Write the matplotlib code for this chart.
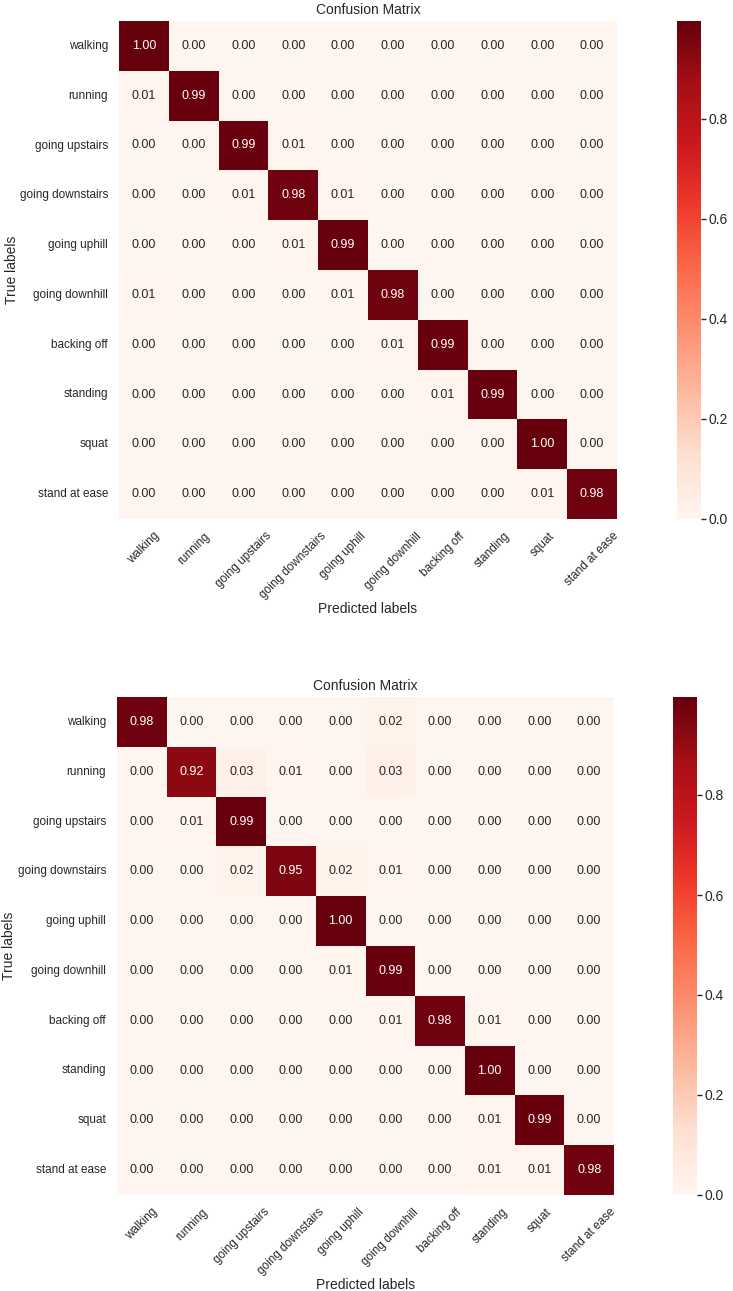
import numpy as np
import matplotlib
matplotlib.use("Agg")
import matplotlib.pyplot as plt
import seaborn as sns

labels = ["walking", "running", "going upstairs", "going downstairs", "going uphill",
          "going downhill", "backing off", "standing", "squat", "stand at ease"]

cm_top = np.array([
    [0.996, 0.00, 0.00, 0.00, 0.00, 0.00, 0.00, 0.00, 0.00, 0.00],
    [0.01, 0.99, 0.00, 0.00, 0.00, 0.00, 0.00, 0.00, 0.00, 0.00],
    [0.00, 0.00, 0.99, 0.01, 0.00, 0.00, 0.00, 0.00, 0.00, 0.00],
    [0.00, 0.00, 0.01, 0.98, 0.01, 0.00, 0.00, 0.00, 0.00, 0.00],
    [0.00, 0.00, 0.00, 0.01, 0.99, 0.00, 0.00, 0.00, 0.00, 0.00],
    [0.01, 0.00, 0.00, 0.00, 0.01, 0.98, 0.00, 0.00, 0.00, 0.00],
    [0.00, 0.00, 0.00, 0.00, 0.00, 0.01, 0.99, 0.00, 0.00, 0.00],
    [0.00, 0.00, 0.00, 0.00, 0.00, 0.00, 0.01, 0.99, 0.00, 0.00],
    [0.00, 0.00, 0.00, 0.00, 0.00, 0.00, 0.00, 0.00, 0.996, 0.00],
    [0.00, 0.00, 0.00, 0.00, 0.00, 0.00, 0.00, 0.00, 0.01, 0.98],
])

cm_bottom = np.array([
    [0.98, 0.00, 0.00, 0.00, 0.00, 0.02, 0.00, 0.00, 0.00, 0.00],
    [0.00, 0.92, 0.03, 0.01, 0.00, 0.03, 0.00, 0.00, 0.00, 0.00],
    [0.00, 0.01, 0.99, 0.00, 0.00, 0.00, 0.00, 0.00, 0.00, 0.00],
    [0.00, 0.00, 0.02, 0.95, 0.02, 0.01, 0.00, 0.00, 0.00, 0.00],
    [0.00, 0.00, 0.00, 0.00, 0.996, 0.00, 0.00, 0.00, 0.00, 0.00],
    [0.00, 0.00, 0.00, 0.00, 0.01, 0.99, 0.00, 0.00, 0.00, 0.00],
    [0.00, 0.00, 0.00, 0.00, 0.00, 0.01, 0.98, 0.01, 0.00, 0.00],
    [0.00, 0.00, 0.00, 0.00, 0.00, 0.00, 0.00, 0.996, 0.00, 0.00],
    [0.00, 0.00, 0.00, 0.00, 0.00, 0.00, 0.00, 0.01, 0.99, 0.00],
    [0.00, 0.00, 0.00, 0.00, 0.00, 0.00, 0.00, 0.01, 0.01, 0.98],
])

sns.set_theme(style="white")
plt.rcParams["font.family"] = ["Liberation Sans", "DejaVu Sans"]

W, H = 733, 1291
fig = plt.figure(figsize=(W / 100, H / 100), dpi=100)


def box(x0, y0, x1, y1):
    # pixel box (top-left origin) -> figure fraction
    return [x0 / W, 1 - y1 / H, (x1 - x0) / W, (y1 - y0) / H]


def draw_cm(cm, ax_box, cbar_box, ylabel_x):
    ax = fig.add_axes(box(*ax_box))
    cax = fig.add_axes(box(*cbar_box))
    sns.heatmap(cm, annot=True, fmt=".2f", cmap="Reds", ax=ax, cbar_ax=cax,
                xticklabels=labels, yticklabels=labels,
                annot_kws={"fontsize": 9})
    ax.set_title("Confusion Matrix", fontsize=10, pad=5)
    ax.set_xlabel("Predicted labels", fontsize=10, labelpad=1)
    ax.set_ylabel("True labels", fontsize=10)
    x0, x1 = ax_box[0], ax_box[2]
    ax.yaxis.set_label_coords((ylabel_x - x0) / (x1 - x0), 0.5)
    ax.tick_params(axis="y", length=0, labelsize=8.5, pad=8)
    ax.tick_params(axis="x", length=0, labelsize=8.5, pad=8)
    plt.setp(ax.get_xticklabels(), rotation=45)
    plt.setp(ax.get_yticklabels(), rotation=0)
    cax.tick_params(length=3.5, width=1, labelsize=10, pad=2, right=True, color="#262626")
    cax.set_yticks([0.0, 0.2, 0.4, 0.6, 0.8])
    return ax


draw_cm(cm_top, (119, 21, 617, 519), (677, 21, 701, 519), 19)
draw_cm(cm_bottom, (117, 697, 614, 1195), (673, 697, 697, 1195), 16)

fig.savefig("out.png", dpi=100)
